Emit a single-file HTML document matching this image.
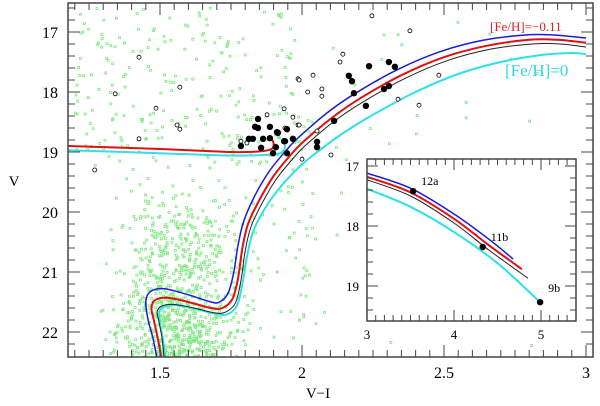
<!DOCTYPE html>
<html><head><meta charset="utf-8">
<style>
html,body{margin:0;padding:0;background:#fff;}
svg{display:block;font-family:"Liberation Serif","DejaVu Serif",serif;}
</style></head>
<body>
<svg id="chart" width="600" height="406" viewBox="0 0 600 406" xmlns="http://www.w3.org/2000/svg">
<defs>
<clipPath id="mainclip"><rect x="68" y="3" width="525" height="354"/></clipPath>
<clipPath id="insetclip"><rect x="367" y="159" width="209" height="162"/></clipPath>
</defs>
<g id="green" clip-path="url(#mainclip)"></g>
<g id="curves" clip-path="url(#mainclip)"></g>
<g id="stars" clip-path="url(#mainclip)"></g>
<g id="mainaxes"></g>
<text x="490" y="31" font-size="13" fill="#e02020">[Fe/H]=−0.11</text>
<text x="505" y="76" font-size="17" fill="#30d8e0">[Fe/H]=0</text>
<text x="318" y="398" font-size="15" text-anchor="middle">V−I</text>
<text x="14" y="186" font-size="15" text-anchor="middle">V</text>
<g id="inset">
<rect x="367" y="159" width="209" height="162" fill="#fff"/>
<g id="insetcurves" clip-path="url(#insetclip)"></g>
<g id="insetstars"></g>
<g id="insetaxes"></g>
</g>
</svg>
<script>
// ---------- data ----------
const redIso=[[1.505,22.45],[1.492,22.1],[1.478,21.8],[1.47,21.6],[1.482,21.47],[1.525,21.43],[1.6,21.5],[1.68,21.6],[1.72,21.6],[1.755,21.45],[1.775,21.1],[1.79,20.6],[1.81,20.2],[1.85,19.8],[1.9,19.4],[1.96,19.05],[2.0,18.85],[2.1,18.45],[2.2,18.12],[2.35,17.72],[2.5,17.42],[2.65,17.23],[2.8,17.13],[2.9,17.13],[3.0,17.18]];
const blueIso=[[1.49,22.45],[1.475,22.1],[1.458,21.8],[1.45,21.5],[1.465,21.33],[1.515,21.28],[1.6,21.38],[1.68,21.5],[1.71,21.5],[1.74,21.35],[1.76,21.0],[1.775,20.55],[1.795,20.15],[1.835,19.72],[1.885,19.32],[1.945,18.97],[1.985,18.77],[2.085,18.36],[2.185,18.03],[2.335,17.63],[2.485,17.33],[2.635,17.14],[2.785,17.05],[2.885,17.05],[3.0,17.1]];
const blackIso=[[1.515,22.45],[1.507,22.1],[1.495,21.8],[1.49,21.66],[1.505,21.57],[1.545,21.54],[1.62,21.6],[1.69,21.68],[1.73,21.67],[1.765,21.52],[1.785,21.15],[1.8,20.65],[1.82,20.25],[1.86,19.85],[1.91,19.45],[1.97,19.1],[2.01,18.9],[2.11,18.5],[2.21,18.18],[2.36,17.78],[2.51,17.48],[2.66,17.29],[2.81,17.2],[2.91,17.2],[3.0,17.25]];
const cyanIso=[[1.52,22.45],[1.51,22.1],[1.5,21.85],[1.498,21.66],[1.515,21.58],[1.555,21.55],[1.63,21.62],[1.7,21.7],[1.74,21.7],[1.772,21.55],[1.79,21.2],[1.808,20.7],[1.83,20.3],[1.875,19.9],[1.93,19.55],[1.99,19.25],[2.04,19.05],[2.14,18.7],[2.25,18.38],[2.4,18.0],[2.55,17.7],[2.7,17.5],[2.85,17.38],[2.95,17.35],[3.0,17.37]];
const redHB=[[1.17,18.9],[1.5,18.95],[1.75,19.0],[1.85,18.99],[1.893,18.95],[1.9,18.86],[1.893,18.78]];
const cyanHB=[[1.17,18.97],[1.5,19.02],[1.75,19.06],[1.9,19.04],[1.935,18.98],[1.94,18.88]];
const filledVI=[1.845,1.835,1.845,1.887,1.912,1.915,1.947,1.813,1.827,1.863,1.887,1.94,1.968,1.785,1.856,1.908,1.898,1.947,2.053,2.053,2.113,2.225,2.183,2.165,2.176,2.236,2.289,2.306,2.306,2.327,1.937];
const filledV=[18.45,18.58,18.6,18.58,18.67,18.68,18.62,18.78,18.78,18.78,18.77,18.82,18.78,18.9,18.93,18.92,19.02,19.02,18.83,18.92,18.48,18.23,18.02,17.73,17.82,17.57,17.95,17.9,17.5,17.58,18.82];
const openVI=[1.426,1.342,1.57,1.486,1.56,1.57,1.426,1.27,1.877,1.937,1.968,1.986,1.986,1.785,1.806,2.246,2.38,2.144,2.134,2.039,1.99,2.02,2.07,2.07,2.482,2.338,2.412,1.99,2.053,2.0,2.102,1.94];
const openV=[17.42,18.03,17.92,18.27,18.55,18.62,18.78,19.3,18.38,18.28,18.42,17.78,18.55,18.82,18.85,16.73,16.98,17.37,17.5,17.72,17.8,18.0,17.95,18.07,17.72,18.12,18.22,18.55,18.65,19.12,19.05,18.6];
const insetBlue=[[3,17.12],[3.5,17.37],[4.0,17.8],[4.4,18.22],[4.68,18.55]];
const insetRed=[[3,17.18],[3.5,17.44],[4.0,17.88],[4.4,18.32],[4.78,18.72]];
const insetBlack=[[3,17.23],[3.5,17.5],[4.0,17.95],[4.4,18.4],[4.85,18.87]];
const insetCyan=[[3,17.38],[3.5,17.68],[4.0,18.1],[4.5,18.62],[4.99,19.27]];
const insetLabels=["12a","11b","9b"];
const insetVK=[3.53,4.33,4.99];
const insetV=[17.42,18.35,19.27];
const xTicks=[1.5,2,2.5,3];
const yTicks=[17,18,19,20,21,22];
const ixTicks=[3,4,5];
const iyTicks=[17,18,19];

// ---------- scales ----------
const X=v=>160+(v-1.5)*284;
const Y=v=>32+(v-17)*60;
const IX=v=>367+(v-3)*87;
const IY=v=>166+(v-17)*60;
const NS="http://www.w3.org/2000/svg";
function mk(tag,parent,attrs){const e=document.createElementNS(NS,tag);for(const k in attrs)e.setAttribute(k,attrs[k]);parent.appendChild(e);return e;}
function smooth(pts,fx,fy){const p=pts.map(q=>[fx(q[0]),fy(q[1])]);let d="M"+p[0][0]+","+p[0][1];
 for(let i=0;i<p.length-1;i++){const p0=p[i-1]||p[i],p1=p[i],p2=p[i+1],p3=p[i+2]||p2;
  const c1=[p1[0]+(p2[0]-p0[0])/6,p1[1]+(p2[1]-p0[1])/6],c2=[p2[0]-(p3[0]-p1[0])/6,p2[1]-(p3[1]-p1[1])/6];
  d+=" C"+c1[0].toFixed(1)+","+c1[1].toFixed(1)+" "+c2[0].toFixed(1)+","+c2[1].toFixed(1)+" "+p2[0].toFixed(1)+","+p2[1].toFixed(1);}
 return d;}

// ---------- field stars (seeded generator; too many to transcribe) ----------
let seed=12345;function rnd(){seed=(seed*1103515245+12345)%2147483648;return seed/2147483648;}
function gauss(){return (rnd()+rnd()+rnd()-1.5)*1.15;}
const green=document.getElementById('green');
function addG(vi,v){const r=mk('rect',green,{x:(X(vi)-1).toFixed(1),y:(Y(v)-1).toFixed(1),width:2,height:2,fill:'none',stroke:'#80e880','stroke-width':0.8});
 
 }
for(let i=0;i<900;i++){let v=19.3+Math.sqrt(rnd())*3.2;let vi=1.56+gauss()*0.18;addG(vi,v);}
for(let i=0;i<220;i++){addG(1.2+rnd()*0.78,16.6+rnd()*2.7);}
for(let i=0;i<90;i++){addG(1.75+rnd()*0.3,18.3+rnd()*3.8);}
for(let i=0;i<40;i++){addG(1.95+rnd()*0.9,16.8+rnd()*5.5);}

// ---------- isochrones ----------
const curves=document.getElementById('curves');
[[cyanIso,'#30e0e8',2,'isochrone-feh-0'],[blackIso,'#222',1,'isochrone-black'],[blueIso,'#1a1ae0',1.5,'isochrone-blue'],[redIso,'#e01010',2,'isochrone-feh-minus-011'],[redHB,'#e01010',2,'hb-feh-minus-011'],[cyanHB,'#30e0e8',2,'hb-feh-0']].forEach(c=>{
 const p=mk('path',curves,{d:smooth(c[0],X,Y),fill:'none',stroke:c[1],'stroke-width':c[2]});
 
 });

// ---------- stars ----------
const stars=document.getElementById('stars');
openVI.forEach((vi,i)=>{const c=mk('circle',stars,{cx:X(vi),cy:Y(openV[i]),r:2,fill:'#fff',stroke:'#000','stroke-width':0.8});
 
 });
filledVI.forEach((vi,i)=>{const c=mk('circle',stars,{cx:X(vi),cy:Y(filledV[i]),r:3.2,fill:'#000'});
 
 });

// ---------- main axes ----------
const ax=document.getElementById('mainaxes');
mk('rect',ax,{x:68,y:3,width:525,height:354,fill:'none',stroke:'#444','stroke-width':1.5});
for(let k=24;k<=60;k++){const v=k*0.05;const x=X(v);if(x<69||x>592)continue;const maj=Math.abs(v*2-Math.round(v*2))<1e-6;const L=maj?12:7;
 mk('line',ax,{x1:x,y1:357,x2:x,y2:357-L,stroke:'#444','stroke-width':1});mk('line',ax,{x1:x,y1:3,x2:x,y2:3+L,stroke:'#444','stroke-width':1});}
for(let k=82;k<=113;k++){const v=k*0.2;const y=Y(v);if(y<4||y>356)continue;const maj=Math.abs(v-Math.round(v))<1e-6;const L=maj?12:7;
 mk('line',ax,{x1:68,y1:y,x2:68+L,y2:y,stroke:'#444','stroke-width':1});mk('line',ax,{x1:593,y1:y,x2:593-L,y2:y,stroke:'#444','stroke-width':1});}
xTicks.forEach(v=>{const t=mk('text',ax,{x:X(v),y:378,'font-size':16,'text-anchor':'middle'});t.textContent=String(v);
 
 });
yTicks.forEach(v=>{const t=mk('text',ax,{x:58,y:Y(v)+6,'font-size':16,'text-anchor':'end'});t.textContent=String(v);
 
 });

// ---------- inset ----------
const ic=document.getElementById('insetcurves');
[[insetCyan,'#30e0e8',2,'inset-isochrone-feh-0'],[insetBlack,'#222',1,'inset-isochrone-black'],[insetRed,'#e01010',2,'inset-isochrone-feh-minus-011'],[insetBlue,'#1a1ae0',1.5,'inset-isochrone-blue']].forEach(c=>{
 const p=mk('path',ic,{d:smooth(c[0],IX,IY),fill:'none',stroke:c[1],'stroke-width':c[2]});
 
 });
const is=document.getElementById('insetstars');
insetVK.forEach((vk,i)=>{const c=mk('circle',is,{cx:IX(vk),cy:IY(insetV[i]),r:3.2,fill:'#000'});
 
 
 const t=mk('text',is,{x:IX(vk)+8,y:IY(insetV[i])-(i==2?10:6),'font-size':12});t.textContent=insetLabels[i];
 
 });
const ia=document.getElementById('insetaxes');
mk('rect',ia,{x:367,y:159,width:209,height:162,fill:'none',stroke:'#444','stroke-width':1.5});
for(let k=30;k<=54;k++){const v=k*0.1;const x=IX(v);if(x<368||x>575)continue;const maj=k%10==0;const L=maj?11:6;
 mk('line',ia,{x1:x,y1:321,x2:x,y2:321-L,stroke:'#444','stroke-width':1});mk('line',ia,{x1:x,y1:159,x2:x,y2:159+L,stroke:'#444','stroke-width':1});}
for(let k=85;k<=98;k++){const v=k*0.2;const y=IY(v);if(y<160||y>320)continue;const maj=Math.abs(v-Math.round(v))<1e-6;const L=maj?11:6;
 mk('line',ia,{x1:367,y1:y,x2:367+L,y2:y,stroke:'#444','stroke-width':1});mk('line',ia,{x1:576,y1:y,x2:576-L,y2:y,stroke:'#444','stroke-width':1});}
ixTicks.forEach(v=>{const t=mk('text',ia,{x:IX(v),y:339,'font-size':13,'text-anchor':'middle'});t.textContent=String(v);
 
 });
iyTicks.forEach(v=>{const t=mk('text',ia,{x:359,y:IY(v)+5,'font-size':13,'text-anchor':'end'});t.textContent=String(v);
 
 });
</script>
</body></html>
